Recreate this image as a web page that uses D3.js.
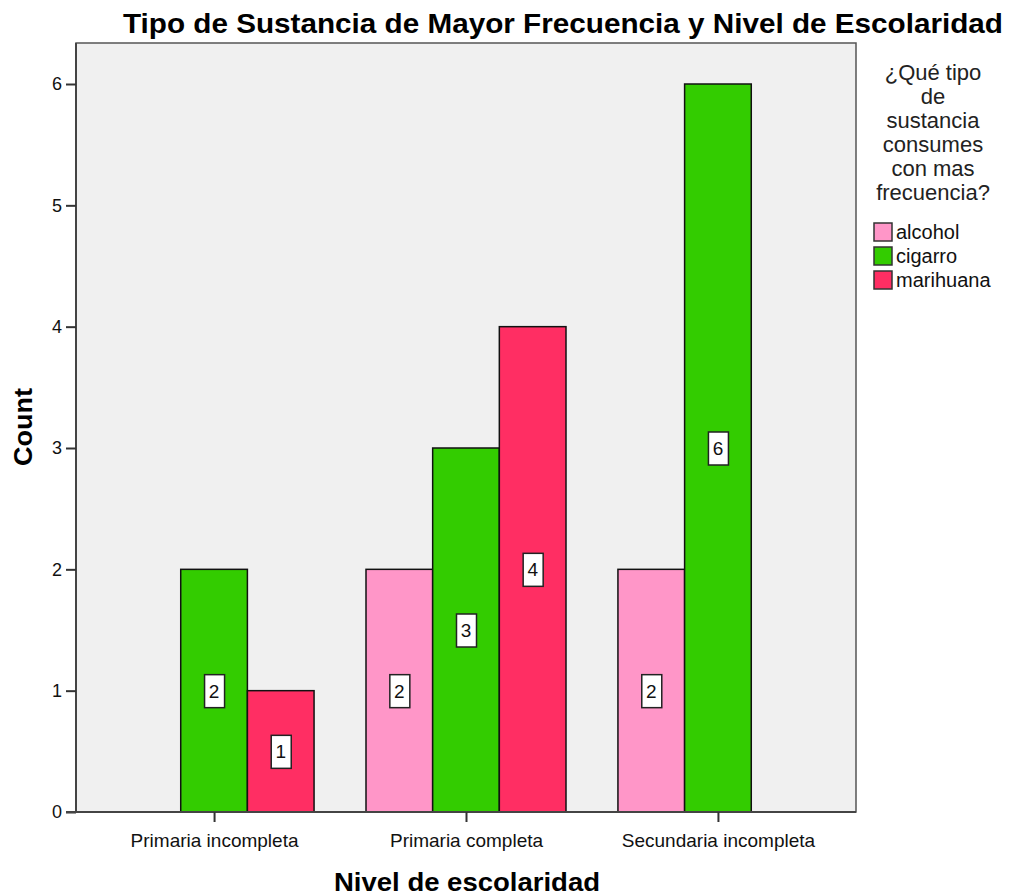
<!DOCTYPE html>
<html lang="es">
<head>
<meta charset="utf-8">
<title>Tipo de Sustancia</title>
<script src="https://cdn.jsdelivr.net/npm/d3@7"></script>
<style>
  body { margin: 0; background: #fff; }
  text { font-family: Arial, "Liberation Sans", sans-serif; fill: #000; }
  .tick text { font-size: 18px; fill: #111; }
  .axis-label { font-size: 25px; font-weight: bold; }
  .title { font-size: 28px; font-weight: bold; }
  .legend-title { font-size: 22px; fill: #222; }
  .legend-item { font-size: 20px; fill: #111; }
  .val { font-size: 19px; fill: #111; }
</style>
</head>
<body>
<script>
// data
const categories = ["Primaria incompleta", "Primaria completa", "Secundaria incompleta"];
const substances = ["alcohol", "cigarro", "marihuana"];
const alcohol   = [0, 2, 2];
const cigarro   = [2, 3, 6];
const marihuana = [1, 4, 0];
const yTicks = [0, 1, 2, 3, 4, 5, 6];
const colors = ["#FF96C8", "#33CC00", "#FF2E63"];

const width = 1011, height = 895;
const plot = { left: 76, right: 856, top: 43, bottom: 812 };

const svg = d3.select("body").append("svg")
  .attr("width", width)
  .attr("height", height);

const seriesVals = [alcohol, cigarro, marihuana];
const rows = [];
categories.forEach((c, i) => {
  substances.forEach((s, j) => {
    rows.push({ cat: c, sub: s, value: seriesVals[j][i], color: colors[j] });
  });
});

const x0 = d3.scalePoint()
  .domain(categories)
  .range([plot.left, plot.right])
  .padding(0.548);

const groupW = 200;
const x1 = d3.scaleBand()
  .domain(substances)
  .range([-groupW / 2, groupW / 2]);

const y = d3.scaleLinear()
  .domain([0, 6])
  .range([plot.bottom, 84]);

// plot background
svg.append("rect")
  .attr("x", plot.left).attr("y", plot.top)
  .attr("width", plot.right - plot.left)
  .attr("height", plot.bottom - plot.top)
  .attr("fill", "#F0F0F0")
  .attr("stroke", "#555")
  .attr("stroke-width", 1.5);

// bars
const bars = rows.filter(d => d.value > 0);
svg.append("g").selectAll("rect")
  .data(bars)
  .enter().append("rect")
  .attr("x", d => x0(d.cat) + x1(d.sub))
  .attr("y", d => y(d.value))
  .attr("width", x1.bandwidth())
  .attr("height", d => y(0) - y(d.value))
  .attr("fill", d => d.color)
  .attr("stroke", "#111")
  .attr("stroke-width", 1.5);

// value labels
const lab = svg.append("g").selectAll("g")
  .data(bars)
  .enter().append("g")
  .attr("transform", d => `translate(${x0(d.cat) + x1(d.sub) + x1.bandwidth() / 2},${y(d.value / 2)})`);
lab.append("rect")
  .attr("x", -9.5).attr("y", -16)
  .attr("width", 20).attr("height", 33)
  .attr("fill", "#fff")
  .attr("stroke", "#222")
  .attr("stroke-width", 1.5);
lab.append("text")
  .attr("class", "val")
  .attr("text-anchor", "middle")
  .attr("dy", "0.36em")
  .text(d => d.value);

// y axis
const yAxis = d3.axisLeft(y).tickValues(yTicks).tickSize(10).tickPadding(4).tickFormat(d3.format("d"));
const yG = svg.append("g").attr("transform", `translate(${plot.left},0)`).call(yAxis);
yG.select(".domain").attr("stroke", "#444").attr("stroke-width", 2).attr("d", `M0,${plot.top}V${plot.bottom}`);
yG.selectAll(".tick line").attr("stroke", "#333").attr("stroke-width", 2);

// x axis
const xAxis = d3.axisBottom(x0).tickSize(10).tickPadding(6);
const xG = svg.append("g").attr("transform", `translate(0,${plot.bottom})`).call(xAxis);
xG.select(".domain").attr("stroke", "#444").attr("stroke-width", 2).attr("d", `M${plot.left - 10},0H${plot.right}`);
xG.selectAll(".tick line").attr("stroke", "#333").attr("stroke-width", 2);
xG.selectAll(".tick text").attr("y", 35).attr("dy", null).style("font-size", "19px");

// titles
svg.append("text")
  .attr("class", "title")
  .attr("x", 563).attr("y", 33)
  .attr("text-anchor", "middle")
  .attr("textLength", 880)
  .attr("lengthAdjust", "spacingAndGlyphs")
  .text("Tipo de Sustancia de Mayor Frecuencia y Nivel de Escolaridad");

svg.append("text")
  .attr("class", "axis-label")
  .attr("x", 467).attr("y", 891)
  .attr("text-anchor", "middle")
  .attr("textLength", 266)
  .attr("lengthAdjust", "spacingAndGlyphs")
  .text("Nivel de escolaridad");

svg.append("text")
  .attr("class", "axis-label")
  .attr("transform", "translate(32,427) rotate(-90)")
  .attr("text-anchor", "middle")
  .attr("textLength", 78)
  .attr("lengthAdjust", "spacingAndGlyphs")
  .text("Count");

// legend
const legendTitle = ["¿Qué tipo", "de", "sustancia", "consumes", "con mas", "frecuencia?"];
svg.append("g").selectAll("text")
  .data(legendTitle)
  .enter().append("text")
  .attr("class", "legend-title")
  .attr("x", 933)
  .attr("y", (d, i) => 80 + i * 24)
  .attr("text-anchor", "middle")
  .text(d => d);

const leg = svg.append("g").selectAll("g")
  .data(substances)
  .enter().append("g")
  .attr("transform", (d, i) => `translate(874,${223 + i * 24})`);
leg.append("rect")
  .attr("width", 18).attr("height", 18)
  .attr("fill", (d, i) => colors[i])
  .attr("stroke", "#333")
  .attr("stroke-width", 1.5);
leg.append("text")
  .attr("class", "legend-item")
  .attr("x", 22).attr("y", 16)
  .text(d => d);
</script>
</body>
</html>
